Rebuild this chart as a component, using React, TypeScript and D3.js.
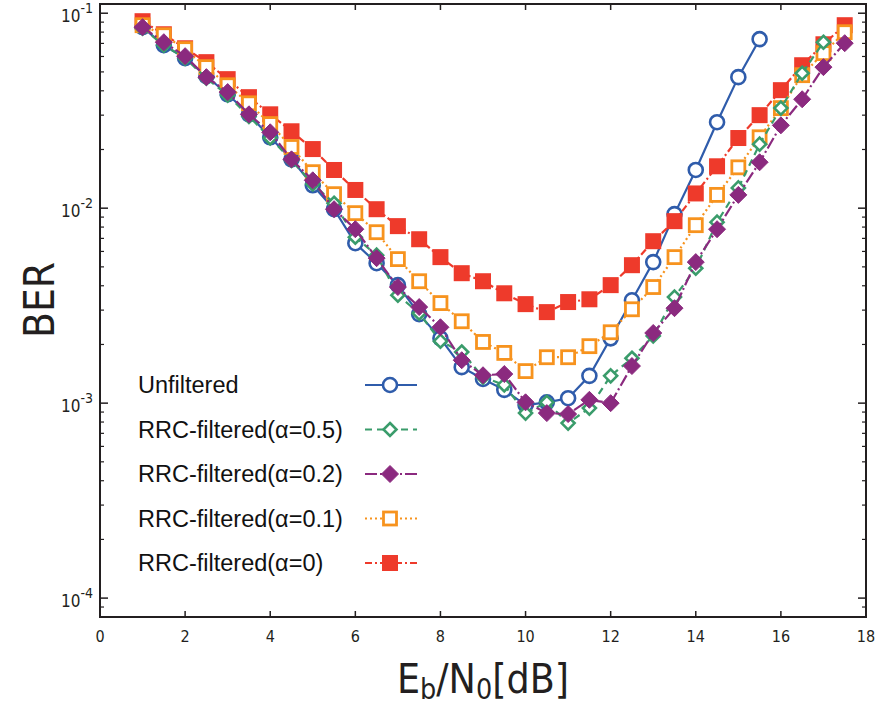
import React from 'react';
import * as d3 from 'd3';

// Eb/N0 grid (dB)
const ebn0 = d3.range(1, 17.51, 0.5);

const unfiltered = [0.0848, 0.0685, 0.0588, 0.0475, 0.0384, 0.0303, 0.0231, 0.0178, 0.0131, 0.00988,
  0.00661, 0.00522, 0.00403, 0.00286, 0.00215, 0.00153, 0.00133, 0.00117, 0.000977, 0.00101,
  0.00106, 0.00138, 0.00215, 0.00337, 0.00529, 0.00932, 0.0157, 0.0276, 0.0470, 0.0736];

const rrc05 = [0.0838, 0.0685, 0.0588, 0.0464, 0.0380, 0.0296, 0.0229, 0.0176, 0.0133, 0.0106,
  0.00710, 0.00574, 0.00358, 0.00289, 0.00208, 0.00183, 0.00136, 0.00124, 0.000889, 0.00101,
  0.000790, 0.000943, 0.00138, 0.00170, 0.00221, 0.00350, 0.00492, 0.00848, 0.0127, 0.0213,
  0.0326, 0.0492, 0.0710];

const rrc02 = [0.0848, 0.0710, 0.0602, 0.0470, 0.0394, 0.0303, 0.0245, 0.0178, 0.0139, 0.00988,
  0.00780, 0.00554, 0.00394, 0.00311, 0.00245, 0.00166, 0.00139, 0.00141, 0.00101, 0.000889,
  0.000879, 0.00104, 0.00100, 0.00155, 0.00229, 0.00307, 0.00529, 0.00780, 0.0117, 0.0172,
  0.0266, 0.0362, 0.0529, 0.0702];

const rrc01 = [0.0868, 0.0771, 0.0654, 0.0529, 0.0427, 0.0345, 0.0270, 0.0206, 0.0153, 0.0118,
  0.00943, 0.00753, 0.00548, 0.00422, 0.00326, 0.00263, 0.00206, 0.00181, 0.00146, 0.00172,
  0.00172, 0.00196, 0.00231, 0.00303, 0.00394, 0.00561, 0.00818, 0.0117, 0.0162, 0.0231,
  0.0326, 0.0481, 0.0624, 0.0799];

const rrc0 = [0.0910, 0.0780, 0.0661, 0.0561, 0.0459, 0.0371, 0.0303, 0.0248, 0.0201, 0.0157,
  0.0124, 0.00988, 0.00809, 0.00693, 0.00561, 0.00464, 0.00422, 0.00366, 0.00322, 0.00293,
  0.00330, 0.00341, 0.00403, 0.00510, 0.00677, 0.00858, 0.0119, 0.0164, 0.0229, 0.0300,
  0.0403, 0.0541, 0.0693, 0.0868];

const xTicks = [0, 2, 4, 6, 8, 10, 12, 14, 16, 18];
const yMajor = [1e-1, 1e-2, 1e-3, 1e-4];
const yExp = ['-1', '-2', '-3', '-4'];

const series = [
  { name: 'Unfiltered', values: unfiltered, color: '#2f5cab', dash: 'none', marker: 'circle' },
  { name: 'RRC-filtered(α=0.5)', values: rrc05, color: '#3a9c6b', dash: '7,5', marker: 'diamondOpen' },
  { name: 'RRC-filtered(α=0.2)', values: rrc02, color: '#8b2a7f', dash: '12,3,2,3', marker: 'diamond' },
  { name: 'RRC-filtered(α=0.1)', values: rrc01, color: '#f7931e', dash: '2,3', marker: 'squareOpen' },
  { name: 'RRC-filtered(α=0)', values: rrc0, color: '#ee3a2b', dash: '7,3,2,3', marker: 'square' },
];
// draw order (bottom to top)
const drawOrder = [0, 4, 3, 1, 2];

const W = 875, H = 709;
const left = 100, right = 866, top = 4, bottom = 617;
const tickFont = '"DejaVu Sans Condensed", "Liberation Sans Narrow", "DejaVu Sans", sans-serif';

const Marker = ({ type, cx, cy, color }: { type: string; cx: number; cy: number; color: string }) => {
  if (type === 'circle')
    return <circle cx={cx} cy={cy} r={7} fill="#fff" stroke={color} strokeWidth={2.6} />;
  if (type === 'diamondOpen') {
    const s = 6.5;
    return <path d={`M${cx},${cy - s}L${cx + s},${cy}L${cx},${cy + s}L${cx - s},${cy}Z`} fill="#fff" stroke={color} strokeWidth={2.6} />;
  }
  if (type === 'diamond') {
    const s = 8.5;
    return <path d={`M${cx},${cy - s}L${cx + s},${cy}L${cx},${cy + s}L${cx - s},${cy}Z`} fill={color} stroke={color} strokeWidth={1} strokeLinejoin="round" />;
  }
  if (type === 'squareOpen')
    return <rect x={cx - 6.5} y={cy - 6.5} width={13} height={13} fill="#fff" stroke={color} strokeWidth={2.8} />;
  return <rect x={cx - 8} y={cy - 8} width={16} height={16} fill={color} />;
};

export default function App() {
  const x = d3.scaleLinear().domain([0, 18]).range([left, right]);
  const y = d3.scaleLog().domain([8e-5, 0.1115]).range([bottom, top]);
  const line = d3.line<[number, number]>().x((d) => x(d[0])).y((d) => y(d[1]));

  const minor = y.ticks().filter((t) => t >= 8e-5 && t <= 0.1115 && !yMajor.some((m) => Math.abs(m - t) / m < 1e-6));

  return (
    <svg width={W} height={H} style={{ display: 'block', position: 'absolute', left: 0, top: 0 }}>
      <rect width={W} height={H} fill="#fff" />
      {drawOrder.map((si) => {
        const s = series[si];
        const pts = s.values.map((v, i) => [ebn0[i], v] as [number, number]);
        return (
          <g key={s.name}>
            <path d={line(pts) || ''} fill="none" stroke={s.color} strokeWidth={2.2}
              strokeDasharray={s.dash === 'none' ? undefined : s.dash} />
            {pts.map((p, i) => (
              <Marker key={i} type={s.marker} cx={x(p[0])} cy={y(p[1])} color={s.color} />
            ))}
          </g>
        );
      })}

      {/* frame */}
      <rect x={left} y={top} width={right - left} height={bottom - top} fill="none" stroke="#231f20" strokeWidth={2} />

      {/* x ticks */}
      {xTicks.map((t) => (
        <g key={t}>
          {t > 0 && t < 18 && (
            <>
              <line x1={x(t)} x2={x(t)} y1={bottom} y2={bottom - 6} stroke="#231f20" strokeWidth={1.5} />
              <line x1={x(t)} x2={x(t)} y1={top} y2={top + 6} stroke="#231f20" strokeWidth={1.5} />
            </>
          )}
          <text x={x(t)} y={642} textAnchor="middle" fontFamily={tickFont} fontStretch="condensed" fontSize={16} fill="#231f20">{t}</text>
        </g>
      ))}

      {/* y ticks */}
      {yMajor.map((t, i) => (
        <g key={t}>
          <line x1={left} x2={left + 8} y1={y(t)} y2={y(t)} stroke="#231f20" strokeWidth={1.5} />
          <line x1={right} x2={right - 8} y1={y(t)} y2={y(t)} stroke="#231f20" strokeWidth={1.5} />
          <text x={93} y={y(t) + 9} textAnchor="end" fontFamily={tickFont} fontStretch="condensed" fontSize={17} fill="#231f20">
            10<tspan dy={-9} fontSize={14}>{yExp[i]}</tspan>
          </text>
        </g>
      ))}
      {minor.map((t) => (
        <g key={t}>
          <line x1={left} x2={left + 4} y1={y(t)} y2={y(t)} stroke="#231f20" strokeWidth={1.2} />
          <line x1={right} x2={right - 4} y1={y(t)} y2={y(t)} stroke="#231f20" strokeWidth={1.2} />
        </g>
      ))}

      {/* axis titles */}
      <text transform="translate(54,300) rotate(-90)" textAnchor="middle" fontFamily={tickFont} fontStretch="condensed"
        fontSize={42} fill="#231f20" textLength={76} lengthAdjust="spacingAndGlyphs">BER</text>
      <text x={483} y={693} textAnchor="middle" fontFamily={tickFont} fontStretch="condensed" fontSize={40} fill="#231f20"
        textLength={172} lengthAdjust="spacingAndGlyphs">
        E<tspan fontSize={28} dy={6}>b</tspan><tspan dy={-6}>/N</tspan><tspan fontSize={28} dy={6}>0</tspan><tspan dy={-6}>[dB]</tspan>
      </text>

      {/* legend */}
      {series.map((s, i) => {
        const cy = 385 + i * 44.5;
        return (
          <g key={s.name}>
            <text x={138} y={cy} dominantBaseline="central" fontFamily='"Liberation Sans", Arial, sans-serif' fontSize={23.5} fill="#111">{s.name}</text>
            <line x1={365} x2={417} y1={cy} y2={cy} stroke={s.color} strokeWidth={2}
              strokeDasharray={s.dash === 'none' ? undefined : s.dash} />
            <Marker type={s.marker} cx={390} cy={cy} color={s.color} />
          </g>
        );
      })}
    </svg>
  );
}
